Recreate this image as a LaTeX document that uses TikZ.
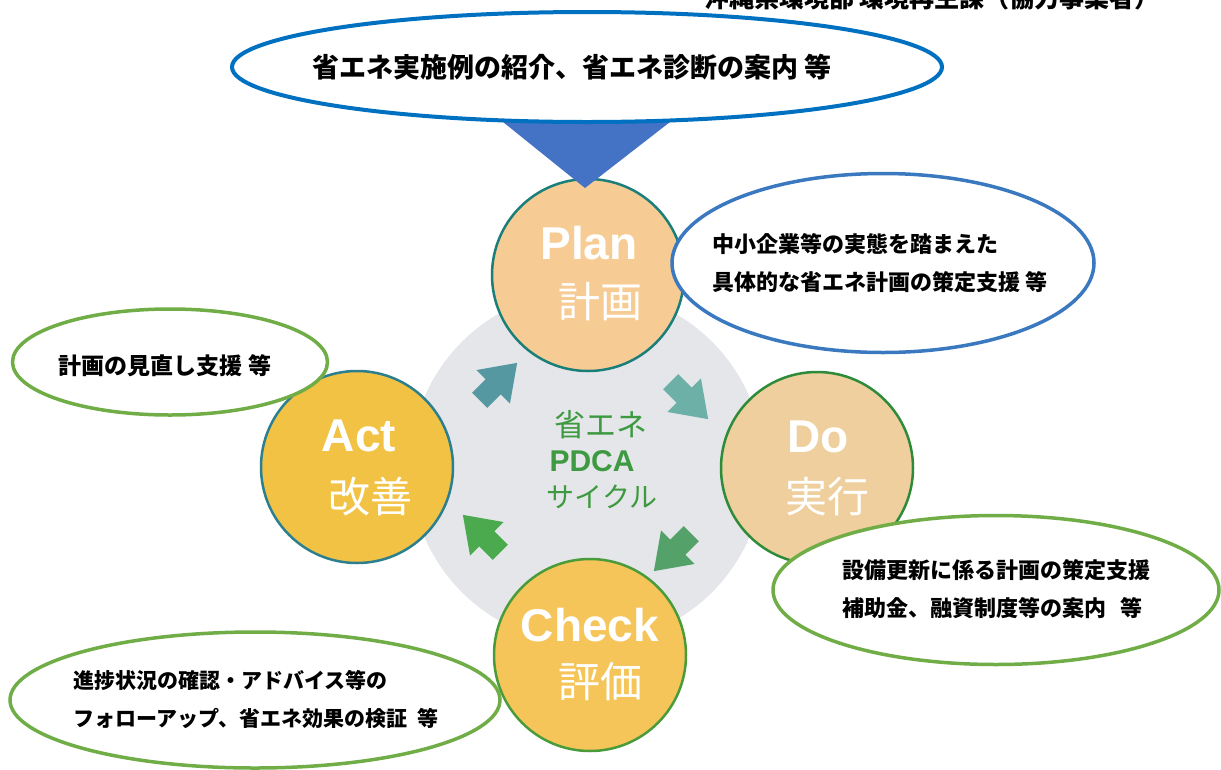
\documentclass[tikz,border=0pt]{standalone}
\usepackage{fontspec}
\setmainfont{Liberation Sans}
\newfontfamily\jp{Noto Sans CJK JP}
\usepackage{tikz}
\usetikzlibrary{shapes.geometric,shapes.arrows}
\definecolor{ringgray}{HTML}{E4E6E9}
\definecolor{plancol}{HTML}{F7CC94}
\definecolor{docol}{HTML}{EFCF9E}
\definecolor{checkcol}{HTML}{F5C55A}
\definecolor{actcol}{HTML}{F2C244}
\definecolor{tealedge}{HTML}{1B7F79}
\definecolor{acteedge}{HTML}{2C7F8F}
\definecolor{greenedge}{HTML}{2E8B3A}
\definecolor{checkedge}{HTML}{4A9B3A}
\definecolor{topblue}{HTML}{0070C0}
\definecolor{planblue}{HTML}{3A78C0}
\definecolor{pointblue}{HTML}{4472C4}
\definecolor{bubblegreen}{HTML}{70AD47}
\definecolor{cyclegreen}{HTML}{3D9A40}
\definecolor{arrowA}{HTML}{5598A2}
\definecolor{arrowB}{HTML}{6CB0A8}
\definecolor{arrowC}{HTML}{55A16A}
\definecolor{arrowD}{HTML}{4CAA4E}
\tikzset{phase/.style 2 args={circle, minimum size=192pt, inner sep=0pt, fill=#1, draw=#2, line width=2.5pt}}
\tikzset{word/.style={text=white, font=\bfseries\fontsize{46}{46}\selectfont}}
\tikzset{kanji/.style={text=white, font=\jp\fontsize{42}{42}\selectfont}}
\tikzset{bubble/.style={ellipse, draw=#1, fill=white, line width=3.5pt, inner sep=0pt}}
\tikzset{bubbletext/.style={align=left, font=\jp\bfseries\fontsize{22}{38}\selectfont}}
\tikzset{cyclearrow/.style={single arrow, fill=#1, minimum height=53pt, inner xsep=0pt, inner ysep=10.5pt, single arrow head extend=13pt, single arrow tip angle=70}}

\begin{document}
\begin{tikzpicture}[x=1pt, y=-1pt]
  \useasboundingbox (0,0) rectangle (1221,769);
  \node (ring) at (587,467)[circle, fill=ringgray, minimum size=354pt, inner sep=0pt]{};

  % the four phases
  \node (plan) at (588,275)[phase={plancol}{tealedge}]{};
  \node (do) at (817,468)[phase={docol}{greenedge}]{};
  \node (check) at (590,655)[phase={checkcol}{checkedge}]{};
  \node (act) at (357,467)[phase={actcol}{acteedge}]{};
  \node (planword) at (589,243)[word]{Plan};
  \node (plankanji) at (600,302)[kanji]{計画};
  \node (doword) at (818,437)[word]{Do};
  \node (dokanji) at (827,497)[kanji]{実行};
  \node (checkword) at (590,625)[word]{Check};
  \node (checkkanji) at (600,682)[kanji]{評価};
  \node (actword) at (359,436)[word]{Act};
  \node (actkanji) at (370,497)[kanji]{改善};

  \node (a1) at (493,387)[cyclearrow=arrowA, rotate=45]{};
  \node (a2) at (684,395)[cyclearrow=arrowB, rotate=-45]{};
  \node (a3) at (678,547)[cyclearrow=arrowC, rotate=-135]{};
  \node (a4) at (487,539)[cyclearrow=arrowD, rotate=135]{};

  \node (cycle1) at (601,425)[text=cyclegreen, font=\jp\fontsize{31}{31}\selectfont]{省エネ};
  \node (cycle2) at (592,461)[text=cyclegreen, font=\bfseries\fontsize{30}{30}\selectfont]{PDCA};
  \node (cycle3) at (602,497)[text=cyclegreen, font=\jp\fontsize{28}{28}\selectfont]{サイクル};

  % pointer from the top balloon
  \fill[pointblue] (503,122) -- (670,122) -- (585,188) -- cycle;
  \node (top) at (587,67)[bubble=topblue, line width=4pt, minimum width=710pt, minimum height=110pt]{};
  \node (toptext) at (572,67)[font=\jp\bfseries\fontsize{27}{27}\selectfont]{省エネ実施例の紹介、省エネ診断の案内 等};

  % balloons
  \node (planbubble) at (883,263)[bubble=planblue, minimum width=422pt, minimum height=179pt]{};
  \node (plantext) at (880,263)[bubbletext]{中小企業等の実態を踏まえた\\具体的な省エネ計画の策定支援 等};
  \node (actbubble) at (170,362)[bubble=bubblegreen, minimum width=315pt, minimum height=106pt]{};
  \node (acttext) at (165,366)[bubbletext, font=\jp\bfseries\fontsize{23}{38}\selectfont]{計画の見直し支援 等};
  \node (dobubble) at (996,590)[bubble=bubblegreen, minimum width=446pt, minimum height=149pt]{};
  \node (dotext) at (996,589)[bubbletext]{設備更新に係る計画の策定支援\\補助金、融資制度等の案内\hspace{14pt}等};
  \node (checkbubble) at (255,700)[bubble=bubblegreen, minimum width=490pt, minimum height=136pt]{};
  \node (checktext) at (256,699)[bubbletext, font=\jp\bfseries\fontsize{21}{38}\selectfont]{進捗状況の確認・アドバイス等の\\フォローアップ、省エネ効果の検証\hspace{10pt}等};

  \node (source) at (932,-2)[font=\jp\bfseries\fontsize{25}{25}\selectfont]{沖縄県環境部 環境再生課（協力事業者）};
\end{tikzpicture}
\end{document}
